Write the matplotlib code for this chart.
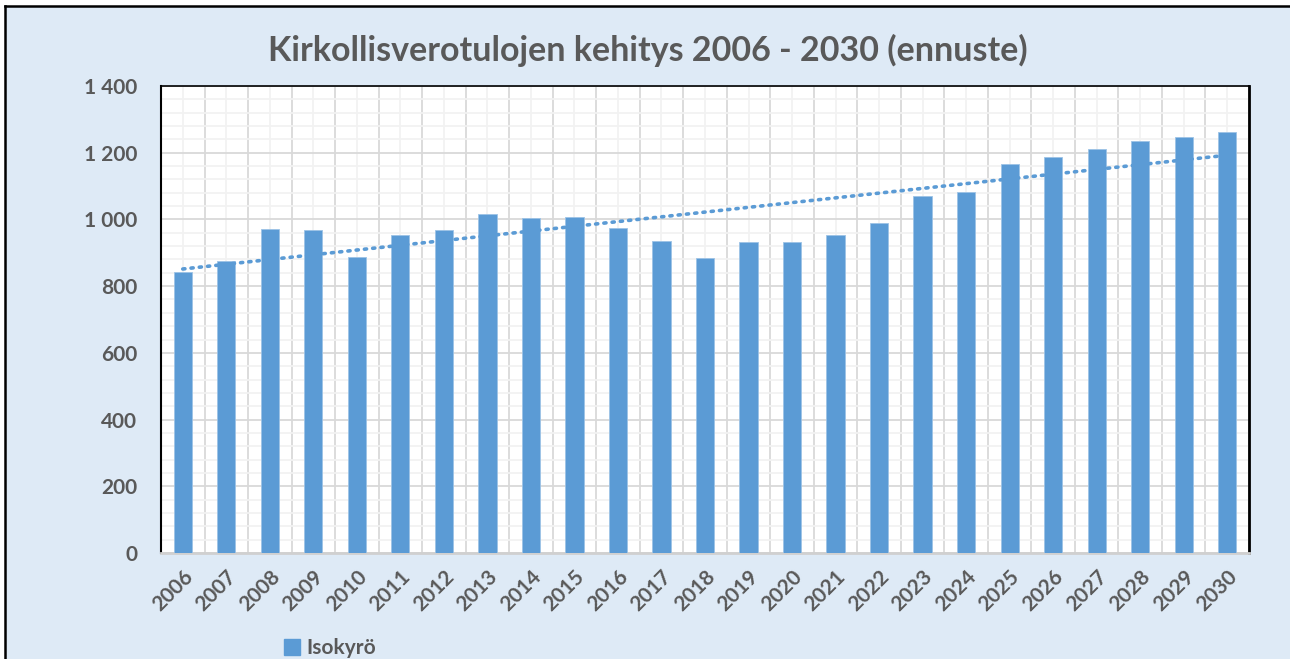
import matplotlib
matplotlib.use("Agg")
import matplotlib.pyplot as plt
from matplotlib.ticker import MultipleLocator, FuncFormatter
from matplotlib.patches import Patch
from matplotlib.lines import Line2D
import numpy as np

years = [str(y) for y in range(2006, 2031)]
values = [843, 875, 971, 968, 888, 953, 968, 1015, 1004, 1008,
          973, 935, 885, 931, 931, 952, 989, 1071, 1081, 1165,
          1188, 1211, 1236, 1246, 1263]
series_name = "Isokyrö"
title = "Kirkollisverotulojen kehitys 2006 - 2030 (ennuste)"

bg = "#DEEAF6"
blue = "#5B9BD5"
grey = "#595959"
plt.rcParams['font.family'] = ['Lato', 'DejaVu Sans']

fig = plt.figure(figsize=(12.9, 6.59), dpi=100, facecolor=bg)
W, H = 1290, 659
ax = fig.add_axes([161 / W, 1 - 553 / H, (1249 - 161) / W, (553 - 86) / H])
ax.set_facecolor("white")

x = np.arange(len(years))
ax.bar(x, values, width=0.42, color=blue, edgecolor="#9DC3E6", linewidth=0.6, zorder=3)

# linear trend
k, b = np.polyfit(x, values, 1)
ax.plot(x, k * x + b, color=blue, linestyle=(0, (0.6, 1.7)), linewidth=2.6,
        dash_capstyle="round", zorder=4)

ax.set_xlim(-0.5, len(years) - 0.5)
ax.set_ylim(0, 1400)
ax.yaxis.set_major_locator(MultipleLocator(200))
ax.yaxis.set_minor_locator(MultipleLocator(40))
ax.set_xticks(x)
ax.set_xticks(np.arange(-0.5, len(years), 1.0), minor=True)
ax.yaxis.set_major_formatter(FuncFormatter(lambda v, p: f"{int(v):,}".replace(",", " ")))

ax.grid(which="major", axis="y", color="#D9D9D9", linewidth=1.3, zorder=0)
ax.grid(which="minor", axis="y", color="#F2F2F2", linewidth=1.3, zorder=0)
ax.grid(which="minor", axis="x", color="#D9D9D9", linewidth=1.3, zorder=0)
ax.grid(which="major", axis="x", color="#F2F2F2", linewidth=1.3, zorder=0)

ax.set_xticklabels(years, rotation=45, ha="right", rotation_mode="anchor")
ax.tick_params(which="both", length=0)
ax.tick_params(axis="x", pad=10, labelsize=15, labelcolor=grey)
ax.tick_params(axis="y", pad=17, labelsize=15, labelcolor=grey)
for lab in ax.get_xticklabels() + ax.get_yticklabels():
    lab.set_fontweight("bold")

for s in ["left", "top", "right"]:
    ax.spines[s].set_color("black")
ax.spines["left"].set_linewidth(1.5)
ax.spines["top"].set_linewidth(1.2)
ax.spines["right"].set_linewidth(2)
ax.spines["bottom"].set_color("#D0D0D0")
ax.spines["bottom"].set_linewidth(2)

fig.text(648 / W, 1 - 50 / H, title, ha="center", va="center",
         fontsize=24.5, fontweight="bold", color=grey)

fig.legend(handles=[Patch(facecolor=blue, edgecolor=blue)], labels=[series_name],
           loc="center left", bbox_to_anchor=(265 / W, 1 - 648 / H), frameon=False,
           handlelength=0.8, handleheight=0.8, handletextpad=0.3,
           prop={"weight": "bold", "size": 15}, labelcolor=grey)

# figure border (top and left)
fig.add_artist(Line2D([5 / W, 5 / W], [0, 1 - 6 / H], color="black", linewidth=1.8,
                      transform=fig.transFigure))
fig.add_artist(Line2D([5 / W, 1], [1 - 6 / H, 1 - 6 / H], color="black", linewidth=1.8,
                      transform=fig.transFigure))
fig.patches.append(plt.Rectangle((0, 1 - 6 / H), 1, 6 / H, transform=fig.transFigure,
                                 facecolor="white", edgecolor="none", zorder=-1))
fig.patches.append(plt.Rectangle((0, 0), 5 / W, 1, transform=fig.transFigure,
                                 facecolor="white", edgecolor="none", zorder=-1))

fig.savefig("out.png", dpi=100, facecolor=bg)
